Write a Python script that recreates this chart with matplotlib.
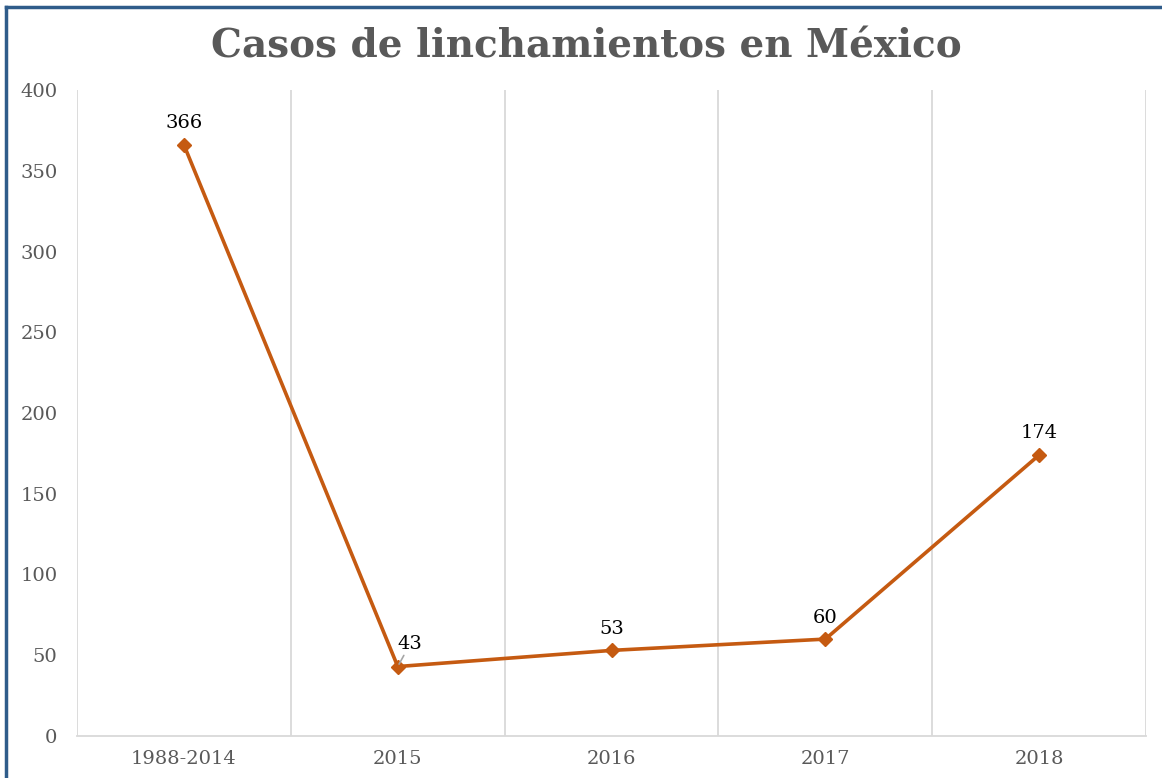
import matplotlib
matplotlib.use("Agg")
import matplotlib.pyplot as plt
from matplotlib.lines import Line2D

# Data
categories = ["1988-2014", "2015", "2016", "2017", "2018"]
cases = [366, 43, 53, 60, 174]
y_ticks = [0, 50, 100, 150, 200, 250, 300, 350, 400]

LINE_COLOR = "#C55A11"
GRID_COLOR = "#D9D9D9"
TEXT_GRAY = "#595959"

plt.rcParams["font.family"] = ["DejaVu Serif"]

fig = plt.figure(figsize=(11.62, 7.78), dpi=100)
ax = fig.add_axes([0.0663, 0.054, 0.92, 0.8303])

x = list(range(len(categories)))
ax.plot(x, cases, color=LINE_COLOR, linewidth=2.6, marker="D", markersize=7.5,
        zorder=3)

# data labels
for xi, val in zip(x, cases):
    if val == 43:
        ax.annotate(str(val), xy=(xi, val), xytext=(9, 10), textcoords="offset points",
                    ha="center", va="bottom", fontsize=14, color="black",
                    arrowprops=dict(arrowstyle="-", color="#A6A6A6", lw=1.2,
                                    shrinkA=0, shrinkB=2))
    else:
        ax.annotate(str(val), xy=(xi, val), xytext=(0, 9), textcoords="offset points",
                    ha="center", va="bottom", fontsize=14, color="black")

ax.set_xlim(-0.5, len(categories) - 0.5)
ax.set_ylim(0, 400)
ax.set_yticks(y_ticks)
ax.set_xticks(x)
ax.set_xticklabels(categories)

# vertical gridlines between categories
for b in [i + 0.5 for i in range(-1, len(categories))]:
    ax.axvline(b, color=GRID_COLOR, linewidth=1.3, zorder=1)

for side in ["top", "left", "right"]:
    ax.spines[side].set_visible(False)
ax.spines["bottom"].set_color(GRID_COLOR)
ax.spines["bottom"].set_linewidth(1.3)

ax.tick_params(axis="both", length=0, labelsize=14, colors=TEXT_GRAY)
ax.tick_params(axis="x", pad=10)
ax.tick_params(axis="y", pad=14)

fig.text(0.505, 0.94, "Casos de linchamientos en México", ha="center", va="center",
         fontsize=28, fontweight="bold", color=TEXT_GRAY)

# chart border (top and left visible)
fig.add_artist(Line2D([0.005, 0.005], [0, 0.991], transform=fig.transFigure,
                      color="#2F5C8A", linewidth=2.5))
fig.add_artist(Line2D([0.005, 1.0], [0.991, 0.991], transform=fig.transFigure,
                      color="#2F5C8A", linewidth=2.5))

fig.savefig("out.png", dpi=100)
